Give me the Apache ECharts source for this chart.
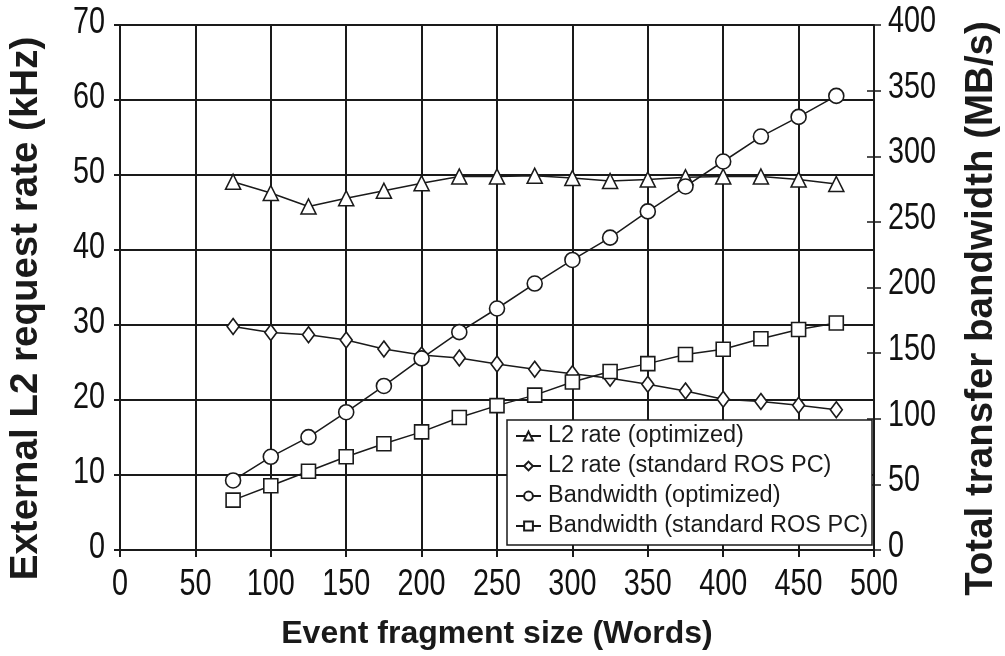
<!DOCTYPE html>
<html>
<head>
<meta charset="utf-8">
<title>L2 rate and bandwidth vs event fragment size</title>
<script src="https://cdn.jsdelivr.net/npm/echarts@6/dist/echarts.min.js"></script>
<style>
  html, body { margin: 0; padding: 0; background: #fff; }
  #chart { width: 1005px; height: 656px; }
</style>
</head>
<body>
<div id="chart"></div>
<script>
// event fragment size (words)
const sizes = [75, 100, 125, 150, 175, 200, 225, 250, 275, 300, 325, 350, 375, 400, 425, 450, 475];
// L2 request rate (kHz), left axis
const l2Optimized = [49.1, 47.6, 45.8, 46.9, 47.9, 48.9, 49.8, 49.8, 49.9, 49.6, 49.2, 49.4, 49.7, 49.8, 49.8, 49.4, 48.8];
const l2Standard = [29.8, 29.0, 28.7, 28.0, 26.8, 26.0, 25.6, 24.8, 24.1, 23.5, 22.9, 22.1, 21.2, 20.1, 19.8, 19.3, 18.7];
// total transfer bandwidth (MB/s), right axis
const bwOptimized = [53, 71, 86, 105, 125, 146, 166, 184, 203, 221, 238, 258, 277, 296, 315, 330, 346];
const bwStandard = [38, 49, 60, 71, 81, 90, 101, 110, 118, 128, 136, 142, 149, 153, 161, 168, 173];

// tick labels
const xTicks = [0, 50, 100, 150, 200, 250, 300, 350, 400, 450, 500];
const rateTicks = [0, 10, 20, 30, 40, 50, 60, 70];
const bwTicks = [0, 50, 100, 150, 200, 250, 300, 350, 400];

const seriesNames = [
  'L2 rate (optimized)',
  'L2 rate (standard ROS PC)',
  'Bandwidth (optimized)',
  'Bandwidth (standard ROS PC)',
];

const ink = '#1a1a1a';
const plain = "'Liberation Sans', Arial, sans-serif";

function pairs(ys) {
  return sizes.map((x, i) => [x, ys[i]]);
}

function lineSeries(name, ys, yAxisIndex, symbol, symbolSize) {
  return {
    name,
    type: 'line',
    yAxisIndex,
    data: pairs(ys),
    symbol,
    symbolSize,
    showAllSymbol: true,
    lineStyle: { color: ink, width: 1.5 },
    itemStyle: { color: '#fff', borderColor: ink, borderWidth: 1.6 },
    animation: false,
  };
}

const chart = echarts.init(document.getElementById('chart'));

const axisLine = { show: true, lineStyle: { color: ink, width: 2 } };
const nameStyle = { color: ink, fontWeight: 'bold', fontFamily: plain };
// side titles sit a little below the middle of the plot; right padding
// on the rotated text pushes it down
const sideName = Object.assign({}, nameStyle, { fontSize: 38.5, padding: [0, 42, 0, 0] });

chart.setOption({
  backgroundColor: '#fff',
  grid: { left: 120, right: 131, top: 25, bottom: 106, outerBoundsMode: 'none' },
  legend: {
    orient: 'vertical',
    left: 507,
    top: 420,
    padding: [4, 4, 7, 8],
    itemGap: 6,
    itemWidth: 25,
    itemHeight: 11,
    backgroundColor: '#fff',
    borderColor: ink,
    borderWidth: 1.5,
    borderRadius: 0,
    textStyle: { color: ink, fontSize: 23.5, fontFamily: plain, padding: [0, 0, 0, 2] },
    data: seriesNames,
  },
  xAxis: {
    type: 'value',
    min: 0,
    max: 500,
    interval: 50,
    name: 'Event fragment size (Words)',
    nameLocation: 'middle',
    nameGap: 68,
    nameTextStyle: Object.assign({}, nameStyle, { fontSize: 32 }),
    axisLine,
    axisTick: { show: true, length: 7, lineStyle: { color: ink, width: 2 } },
    axisLabel: { show: false },
    splitLine: { show: true, lineStyle: { color: ink, width: 2 } },
  },
  yAxis: [
    {
      type: 'value',
      position: 'left',
      min: 0,
      max: 70,
      interval: 10,
      name: 'External L2 request rate (kHz)',
      nameLocation: 'middle',
      nameGap: 74,
      nameRotate: 90,
      nameTextStyle: sideName,
      axisLine,
      axisTick: { show: true, length: 6, lineStyle: { color: ink, width: 2 } },
      axisLabel: { show: false },
      splitLine: { show: true, lineStyle: { color: ink, width: 2 } },
    },
    {
      type: 'value',
      position: 'right',
      min: 0,
      max: 400,
      interval: 50,
      name: 'Total transfer bandwidth (MB/s)',
      nameLocation: 'middle',
      nameGap: 88,
      nameRotate: 90,
      nameTextStyle: sideName,
      axisLine,
      axisTick: { show: true, length: 7, lineStyle: { color: ink, width: 1.5 } },
      axisLabel: { show: false },
      splitLine: { show: false },
    },
    {
      // same scale again, only to draw the inner half of the right ticks
      type: 'value',
      position: 'right',
      min: 0,
      max: 400,
      interval: 50,
      axisLine: { show: false },
      axisTick: { show: true, inside: true, length: 7, lineStyle: { color: ink, width: 1.5 } },
      axisLabel: { show: false },
      splitLine: { show: false },
    },
  ],
  series: [
    lineSeries(seriesNames[0], l2Optimized, 0, 'triangle', [15, 15]),
    lineSeries(seriesNames[1], l2Standard, 0, 'diamond', [12, 16]),
    lineSeries(seriesNames[2], bwOptimized, 1, 'circle', 15),
    lineSeries(seriesNames[3], bwStandard, 1, 'rect', 14),
  ],
});

// tick labels in the figure are condensed digits; no narrow font is installed,
// so draw them as squeezed text placed through the axes' own scales
const labelFont = { fill: '#111', fontSize: 36, fontFamily: plain };
function tickLabel(text, x, y, align) {
  return {
    type: 'text',
    x,
    y,
    scaleX: 0.8,
    silent: true,
    style: Object.assign({ text: String(text), align, verticalAlign: 'middle' }, labelFont),
  };
}

const labels = [];
xTicks.forEach((v) => {
  const [px, py] = chart.convertToPixel({ xAxisIndex: 0, yAxisIndex: 0 }, [v, 0]);
  labels.push(tickLabel(v, px, py + 35, 'center'));
});
rateTicks.forEach((v) => {
  const [px, py] = chart.convertToPixel({ xAxisIndex: 0, yAxisIndex: 0 }, [0, v]);
  labels.push(tickLabel(v, px - 15, py - 2, 'right'));
});
bwTicks.forEach((v) => {
  const [px, py] = chart.convertToPixel({ xAxisIndex: 0, yAxisIndex: 1 }, [500, v]);
  labels.push(tickLabel(v, px + 14, py - 3, 'left'));
});
chart.setOption({ graphic: labels });
</script>
</body>
</html>
